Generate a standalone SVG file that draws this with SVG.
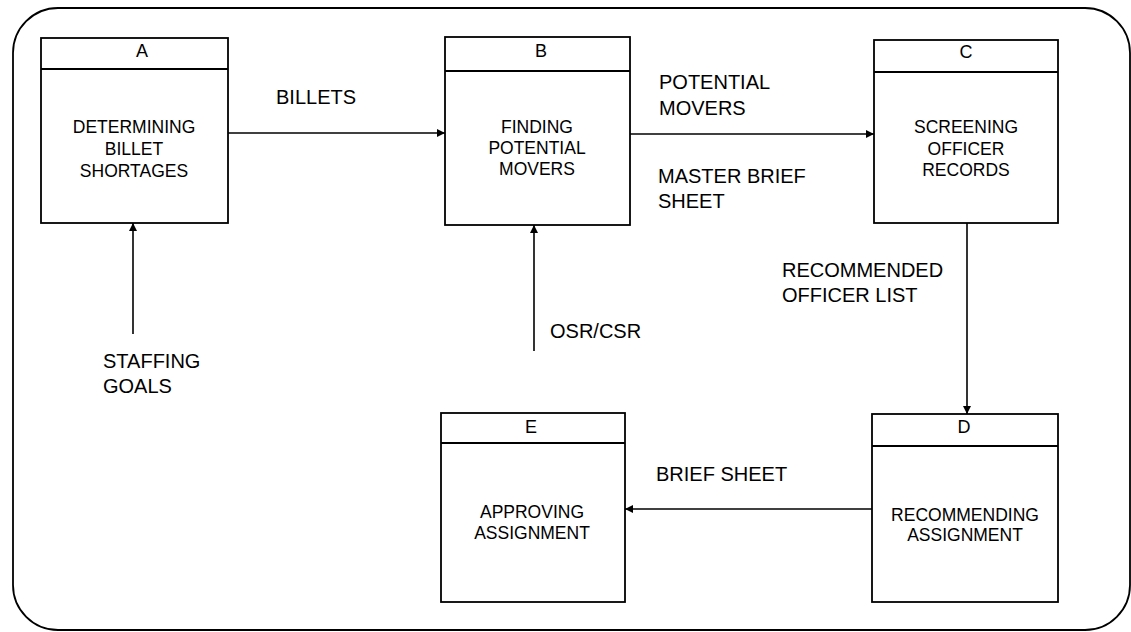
<svg xmlns="http://www.w3.org/2000/svg" width="1131" height="632" viewBox="0 0 1131 632">
  <style>
    .frame { fill: none; stroke: #000; stroke-width: 1.8; }
    .box { fill: #fff; stroke: #000; stroke-width: 1.8; }
    .hdr { stroke: #000; stroke-width: 1.8; }
    .conn { stroke: #000; stroke-width: 1.6; fill: none; marker-end: url(#arrow); }
    .lbl { font-family: "Liberation Sans", Arial, sans-serif; font-size: 20px; fill: #000; }
    .ntxt { font-family: "Liberation Sans", Arial, sans-serif; font-size: 17.5px; fill: #000; text-anchor: middle; }
    .id { font-family: "Liberation Sans", Arial, sans-serif; font-size: 18px; fill: #000; text-anchor: middle; }
  </style>
  <defs>
    <marker id="arrow" viewBox="0 0 10 10" refX="10" refY="5" markerWidth="10" markerHeight="8" markerUnits="userSpaceOnUse" orient="auto">
      <path d="M0,0 L10,5 L0,10 Z" fill="#000"/>
    </marker>
  </defs>
  <rect width="1131" height="632" fill="#fff"/>
  <rect class="frame" x="13" y="8" width="1117" height="622" rx="45" ry="45"/>

  <g id="connectors">
    <line class="conn" x1="228" y1="133" x2="445" y2="133"/>
    <line class="conn" x1="630" y1="134" x2="874" y2="134"/>
    <line class="conn" x1="967" y1="223" x2="967" y2="414"/>
    <line class="conn" x1="872" y1="509" x2="625" y2="509"/>
    <line class="conn" x1="133" y1="334" x2="133" y2="223"/>
    <line class="conn" x1="534" y1="351" x2="534" y2="225"/>
  </g>

  <g id="labels">
    <text class="lbl" x="276" y="104">BILLETS</text>
    <text class="lbl" x="659" y="89">POTENTIAL</text>
    <text class="lbl" x="659" y="115">MOVERS</text>
    <text class="lbl" x="658" y="183">MASTER BRIEF</text>
    <text class="lbl" x="658" y="208">SHEET</text>
    <text class="lbl" x="782" y="277">RECOMMENDED</text>
    <text class="lbl" x="782" y="302">OFFICER LIST</text>
    <text class="lbl" x="103" y="368">STAFFING</text>
    <text class="lbl" x="103" y="393">GOALS</text>
    <text class="lbl" x="550" y="338">OSR/CSR</text>
    <text class="lbl" x="656" y="481">BRIEF SHEET</text>
  </g>

  <g id="node-A">
    <rect class="box" x="41" y="38" width="187" height="185"/>
    <line class="hdr" x1="41" y1="69" x2="228" y2="69"/>
    <text class="id" x="142" y="57">A</text>
    <text class="ntxt" x="134" y="133">DETERMINING</text>
    <text class="ntxt" x="134" y="155">BILLET</text>
    <text class="ntxt" x="134" y="177">SHORTAGES</text>
  </g>

  <g id="node-B">
    <rect class="box" x="445" y="37" width="185" height="188"/>
    <line class="hdr" x1="445" y1="71" x2="630" y2="71"/>
    <text class="id" x="541" y="57">B</text>
    <text class="ntxt" x="537" y="133">FINDING</text>
    <text class="ntxt" x="537" y="154">POTENTIAL</text>
    <text class="ntxt" x="537" y="175">MOVERS</text>
  </g>

  <g id="node-C">
    <rect class="box" x="874" y="40" width="184" height="183"/>
    <line class="hdr" x1="874" y1="72" x2="1058" y2="72"/>
    <text class="id" x="966" y="58">C</text>
    <text class="ntxt" x="966" y="133">SCREENING</text>
    <text class="ntxt" x="966" y="155">OFFICER</text>
    <text class="ntxt" x="966" y="176">RECORDS</text>
  </g>

  <g id="node-D">
    <rect class="box" x="872" y="414" width="186" height="188"/>
    <line class="hdr" x1="872" y1="446" x2="1058" y2="446"/>
    <text class="id" x="964" y="433">D</text>
    <text class="ntxt" x="965" y="521">RECOMMENDING</text>
    <text class="ntxt" x="965" y="541">ASSIGNMENT</text>
  </g>

  <g id="node-E">
    <rect class="box" x="441" y="413" width="184" height="189"/>
    <line class="hdr" x1="441" y1="443" x2="625" y2="443"/>
    <text class="id" x="531" y="433">E</text>
    <text class="ntxt" x="532" y="518">APPROVING</text>
    <text class="ntxt" x="532" y="539">ASSIGNMENT</text>
  </g>
</svg>
